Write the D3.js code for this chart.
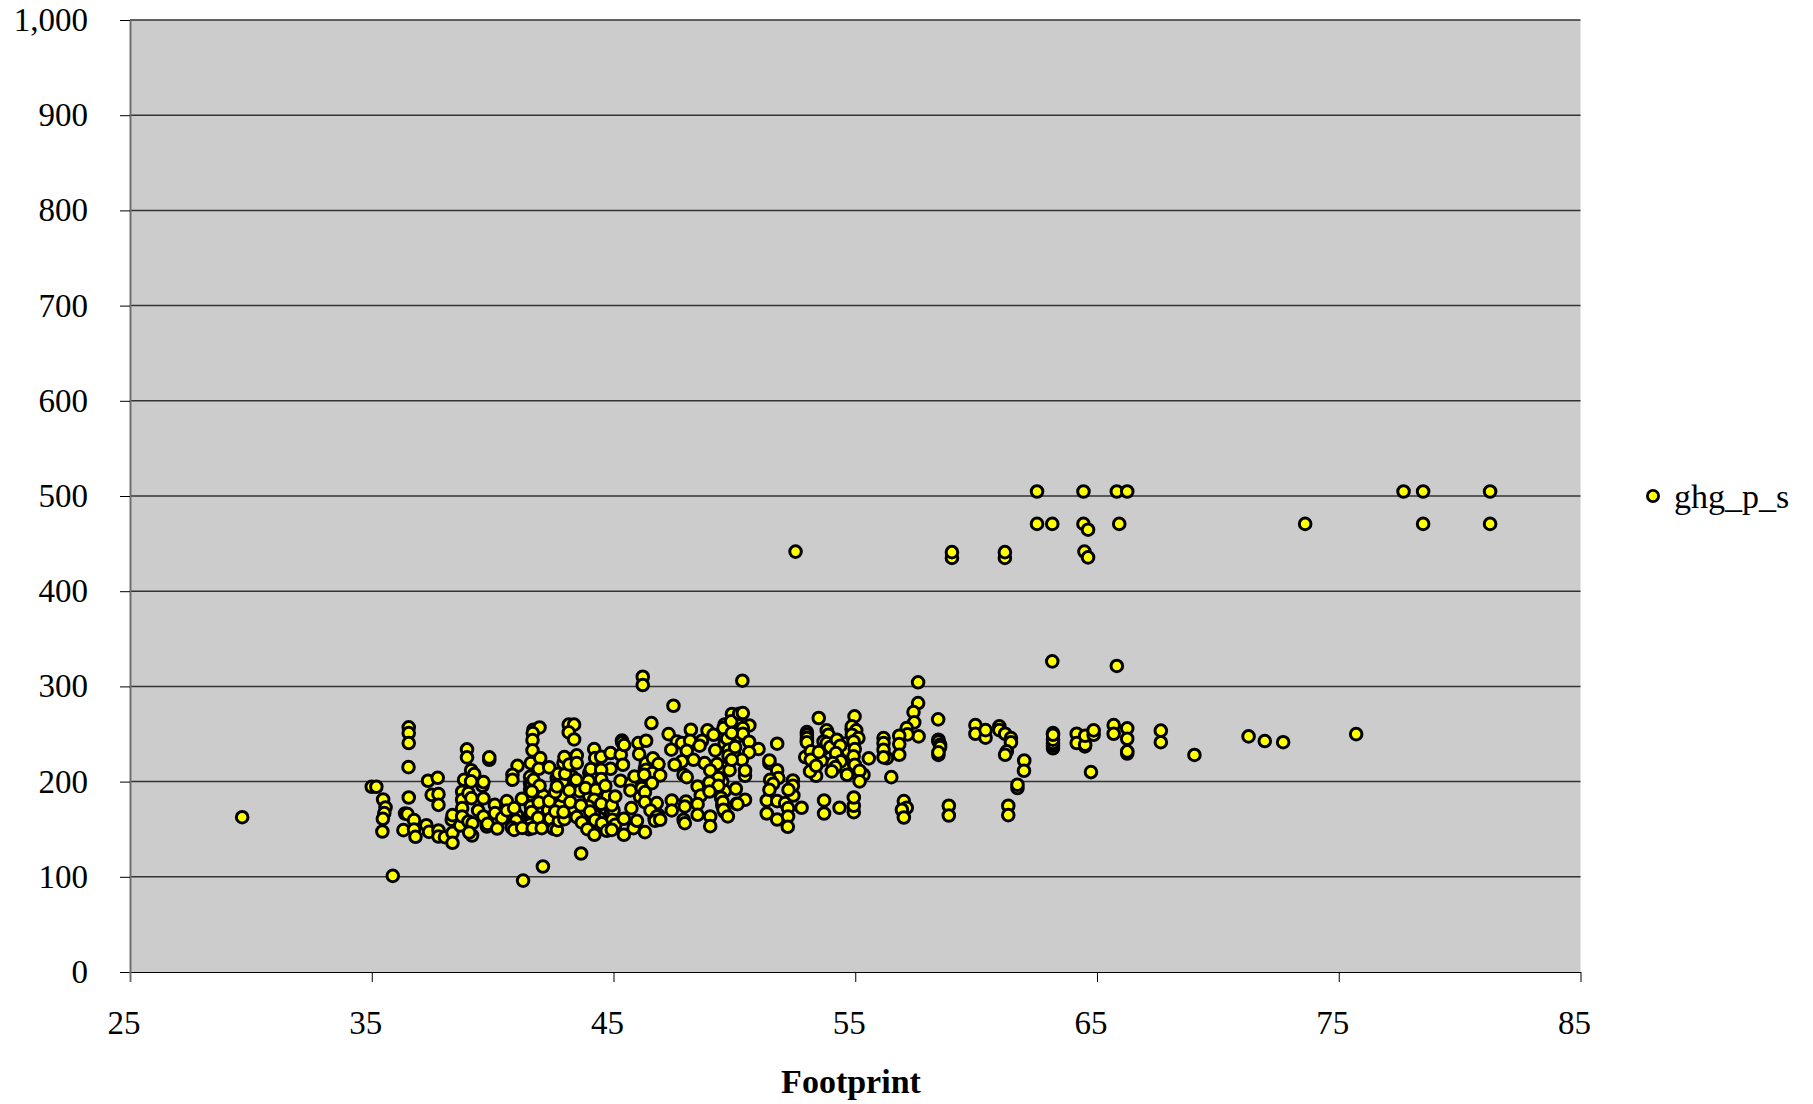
<!DOCTYPE html>
<html><head><meta charset="utf-8">
<script src="https://d3js.org/d3.v7.min.js"></script>
<style>
html,body{margin:0;padding:0;background:#fff;}
svg{display:block;font-family:"Liberation Serif","Times New Roman",serif;}
</style></head><body><div id="chart"></div>
<script>
const seriesName = "ghg_p_s";
const xTitle = "Footprint";
const xTicks = [25,35,45,55,65,75,85];
const yTicks = [0,100,200,300,400,500,600,700,800,900,1000];
// [Footprint, ghg_p_s]
const pointsHidden = [
[41.55,205],[41.55,198],[41.55,192],[41.55,186],[41.6,170],[41.55,165],[41.6,160],[41.55,155],[41.5,150],
[46.3,214],[46.3,210],[46.3,204],[46.25,200],[46.1,188],[46.1,184],[42.65,204],[42.7,199],[42.5,152],[44.2,147],[44.0,209],[44.1,205],[43.4,225],[45.35,243],[44.65,151],[44.8,152],[46.85,165],[46.7,161],
[53,252],[53,243],[54.85,255],[54.9,246],[58.44,244],[58.44,228],[63.18,251],[63.18,235],[64.5,237],
[44,185],[44.3,172],[44.6,165],[44.9,168],[44.4,162],[44.75,185],[45,170],[44.1,155],[44.45,150],[44.95,160],[44.2,165],
[41.0,165],[41.1,156],[42.2,155],[42.3,170],[42.1,185],[42.8,175],[43.1,165],[42.9,185],[43.3,172],[42.9,200],[43.3,205],[43.6,190],[46.5,215],[46.5,203],
[54.3,225],[54.5,215],[54.6,240],[54.7,225],[54.7,232],[53.3,225],[53.6,222],[53.7,235],
[49.6,240],[49.9,238],[50,228],[49.5,215],[49.8,212],[50,245],[49.6,260],[50.1,262],[50.2,248],[49.5,200],[49.6,190],[49.45,183],[49.5,175],[49.6,168]
];
const pointsLeft = [
[29.64,162.6],[35.87,101],[41.26,96],[42.08,110.8],[43.66,124.5],[35.0,194.6],[35.19,194.6],[35.47,181.2],[35.57,172.8],[35.52,166.9],[35.46,160.9],[35.44,147.6],
[36.53,257],[36.53,251],[36.53,240.5],[36.52,215.2],[36.53,183.3],[36.38,166.5],[36.48,165.8],[36.31,149],[36.75,159.5],[36.75,149.7],[36.81,142],
[37.33,200.9],[37.73,204],[37.48,186.1],[37.76,186.8],[37.76,175.6],[37.26,154.2],[37.37,147.2],[37.76,148.6],[37.76,142.3],[38.03,141.6],[38.34,146.2],[38.34,135.7],[38.31,159.9],[38.34,164.8],[38.66,153.9],
[38.74,189.3],[38.74,180.9],[38.74,172.1],[38.74,163.4],[38.82,201.9],[38.94,233.8],[38.94,225.4],[39.11,212],[39.24,207.9],[39.11,200.2],[39.58,195.6],[39.62,199.5],[39,187.9],[39.12,182.6],[39.62,182.3],[39.4,169.7],[39,158.1],[39.17,156.3],[39.15,143.4],[39.03,146.5],[39.62,163.4],[39.76,152.8],[39.79,155.6],[39.86,222.9],[39.86,225.4],
[40.09,175.6],[40.1,166.9],[40.39,161.6],[40.19,150.7],[40.59,179.5],[40.59,169.7],[40.89,172.1],[41.03,216.6],[40.82,207.2],[40.82,201.9],[41.21,181.9],[40.97,159.2],[40.79,151.8],[40.89,149.3],[41.22,151.4],
[41.69,254.5],[41.94,256.9],[41.66,251],[41.65,243.6],[41.65,232.8],[41.58,219.4],[41.97,224.7],[41.91,213.5],[42.34,214.9],[41.62,196.7],[41.69,201.9],[41.94,195.6],[41.62,189.6],[41.58,173.9],[41.91,178.1],[42.34,179.5],[41.61,167.9],[41.88,162],[42.38,160.9],[41.66,151.1],[42.03,151.1],[42.52,150.4],[42.66,149.3],[42.74,158.8],[42.97,160.5],[42.59,168.6],[42.93,167.9],[43.21,178.4],[42.59,188.9],[42.66,194.9],[43.17,190.7],[42.72,208.2],[43.0,208.2],[43.46,201.9],[42.93,219.4],[42.97,225.8],[43.17,218],[43.48,227.5],[43.48,219.4],
[43.15,259.8],[43.37,259.8],[43.15,251.7],[43.37,244.3],[44.2,234.2],[44.24,224.7],[44.49,226.1],[44.88,230],[45.3,228.2],[45.36,241.2],[45.44,238.4],[45.39,217.7],[44.88,213.5],[44.06,213.1],[44.49,212.4],[44.49,202.6],[43.97,200.9],[43.84,193.2],[44.27,191.4],[44.66,195.6],[44.2,180.9],[43.97,173.9],[43.65,174.9],[44.03,168.6],[44.49,176.7],[44.93,175.3],[45.07,184.4],[43.48,162.7],[43.69,157.1],[44.24,159.5],[44.52,156.3],[45.07,154.6],[43.92,150],[44.21,144.1],[44.72,148.3],[44.93,149.3],[45.43,144.1],[45.43,160.9],[45.83,151.1],[45.97,158.8],[45.74,172.1],[46.3,146.9],[45.29,200.9],[45.72,197.7],[45.87,205.4],[45.7,190.7],
[46.21,310.2],[46.21,301.5],[47.48,279.7],[46.57,261.5],[46.03,240.5],[46.35,242.9],[46.06,228.9],[46.34,219.1],[46.63,224.4],[46.86,218.4],[46.35,212.4],[46.61,208.9],[46.93,206.5],[46.27,207.2],[46.59,198.4],[46.17,193.2],[46.3,188.9],[46.3,178.4],[46.79,177.4],[46.53,169.7],[46.79,163.4],[46.72,158.8],[46.93,159.9],
[47.28,249.9],[48.2,254.5],[48.89,253.8],[47.62,242.2],[47.83,240.5],[48.17,242.9],[47.39,233.5],[48.03,232.4],[48.66,242.9],[48.56,237.7],[49.21,232.8],[49.55,256.2],[49.14,249.2],[49.7,245],[49.9,271],[49.87,263.3],[49.76,233.5],[49.76,227.2],[49.28,218.4],[48.77,219.4],[48.31,222.9],[47.83,221.2],[47.53,217.7],[49,211.7],[47.9,207.2],[48.03,204.7],[49.34,203.7],[48.97,199.1],[48.48,194.9],[49.34,195.6],[50.06,192.5],[48.61,185.4],[48.97,189.6],
[47.41,180.2],[47.41,169.7],[48,179.1],[47.95,173.9],[48.48,176.3],[47.9,159.9],[47.95,156.3],[48.48,165.1],[49,163.4],[49,153.2],[49.52,178.4],[49.55,170.4],[49.73,163.4],[50.1,176.7]
];
const pointsMiddle = [
[50.33,306],[50.2,271.3],[50.35,272],[50.62,259],[50.35,256.2],[50.35,250.3],[49.89,251],[50.61,241.9],[51,234.2],[50.03,236.3],[50.61,230.7],[50.31,222.9],[49.89,222.9],[50.44,206.1],[50.44,211.7],[50.44,180.9],[50.13,176.3],
[51.34,180.2],[51.34,166.5],[51.77,179.5],[51.77,160.2],[52.1,177.4],[52.22,172.1],[52.22,163.4],[52.21,152.5],[52.44,185.4],[52.78,172.5],[51.45,219.4],[51.45,222.2],[51.77,212],[51.82,203.7],[51.48,201.9],[51.6,197.7],[51.45,191.4],[52.42,201.2],[52.42,195.6],[52.24,191.4],[51.77,239.8],
[53.49,266.8],[53,249.2],[53,245.7],[53,241.2],[52.93,225.8],[53.16,231.7],[53.16,222.9],[53.38,206.1],[53.13,210.7],[53.38,216.6],[53.49,231],
[53.82,253.8],[53.89,249.2],[53.69,242.2],[53.82,240.5],[53.96,236.3],[54.24,244],[54.38,237.7],[54.2,230],[54.4,221.2],[54.07,219.4],[54.18,215.2],[54.03,210.7],
[53.71,180.2],[53.71,166.5],[54.35,172.5],[54.94,167.9],[54.94,174.6],[54.94,183.3],
[54.97,268.5],[54.86,258],[55.04,253.8],[54.86,249.2],[55.13,245.7],[54.93,242.2],[54.98,234.2],[54.93,226.5],[54.98,217.7],[54.66,207.2],[55.34,207.2],[55.18,211.4],[55.18,200.2],[55.56,224.4],
[57.6,304.3],[57.6,282.5],[57.41,273],[57.44,262.2],[57.62,247.5],[57.13,256.2],[57.16,249.6],[56.82,248.2],[56.82,239.4],[56.82,228.2],[58.43,265.4],[58.44,242.2],[58.51,238.7],[58.51,236.3],[58.44,230.7],
[56.17,245.7],[56.17,240.5],[56.17,233.5],[56.31,224.7],[56.17,225.4],[56.49,204.7],
[57.01,179.5],[57.13,172.5],[56.93,170.4],[57.01,162.3],[58.87,174.6],[58.87,164.4],[61.33,174.6],[61.33,164.8],
[59.97,259.4],[59.97,250.3],[60.39,246.1],[60.39,254.1],[60.96,258],[60.96,254.1],[61.2,250.3],[61.44,245.7],[61.44,241.2],[61.27,231.7],[61.2,228.2],[61.99,222.2],[61.98,211.4],[61.71,193.2],[61.71,196.7]
];
const pointsRight = [
[63.18,237.7],[63.18,240.5],[63.18,244],[63.18,249.2],[64.16,250.3],[64.16,240.5],[64.51,238.7],[64.51,248.2],[64.86,249.2],[64.86,253.8],[64.75,210],[65.69,259.4],[65.69,250.3],
[66.25,256],[66.25,245],[66.25,229.5],[66.25,231.7],[67.64,253.5],[67.64,241.4],[69.03,228],[71.27,247.5],[71.94,242.6],[72.7,241.4],[75.72,249.9],
[63.15,326.3],[65.82,321.5],
[52.53,441.6],[59,435],[59,441],[61.19,435],[61.19,441],[62.52,504.7],[62.52,470.7],[63.15,470.7],[64.44,504.7],[64.44,470.7],[64.63,464.6],[64.48,441.6],[64.63,435.5],
[65.82,504.7],[66.25,504.7],[65.92,470.7],[73.61,470.7],[77.68,504.7],[78.49,504.7],[78.49,470.7],[81.26,504.7],[81.26,470.7]
];
const points = pointsHidden.concat(pointsLeft, pointsMiddle, pointsRight);

const W=1813,H=1104;
const x=d3.scaleLinear().domain([25,85]).range([130,1580.5]);
const y=d3.scaleLinear().domain([0,1000]).range([972,20]);
const svg=d3.select("#chart").append("svg").attr("width",W).attr("height",H);

svg.append("rect").attr("x",x(25)).attr("y",y(1000)).attr("width",x(85)-x(25)).attr("height",y(0)-y(1000)).attr("fill","#cccccc");

svg.append("g").selectAll("line").data(yTicks.filter(d=>d>0)).join("line")
  .attr("x1",x(25)).attr("x2",x(85)).attr("y1",d=>y(d)).attr("y2",d=>y(d))
  .attr("stroke","#333333").attr("stroke-width",1.5);

const yAxis=d3.axisLeft(y).tickValues(yTicks).tickSize(10).tickSizeOuter(0).tickPadding(32).tickFormat(d3.format(","));
const gy=svg.append("g").attr("transform",`translate(${x(25)},0)`).call(yAxis);
gy.select(".domain").attr("stroke","#707070").attr("stroke-width",2);
gy.selectAll(".tick line").attr("stroke","#000").attr("stroke-width",1);
gy.selectAll(".tick text").attr("font-size",33).attr("font-family","Liberation Serif").attr("fill","#000");

const xAxis=d3.axisBottom(x).tickValues(xTicks).tickSize(10).tickSizeOuter(0).tickPadding(29).tickFormat(d3.format("d"));
const gx=svg.append("g").attr("transform",`translate(0,${y(0)})`).call(xAxis);
gx.select(".domain").attr("stroke","#000").attr("stroke-width",1.2);
gx.selectAll(".tick line").attr("stroke",d=>d===25?"#707070":"#000").attr("stroke-width",d=>d===25?2:1);
gx.selectAll(".tick text").attr("font-size",33).attr("font-family","Liberation Serif").attr("fill","#000").attr("dx",-6.5);

svg.append("g").selectAll("circle").data(points).join("circle")
  .attr("cx",d=>x(d[0])).attr("cy",d=>y(d[1])).attr("r",5.8)
  .attr("fill","#ffff00").attr("stroke","#000").attr("stroke-width",3);

svg.append("text").attr("x",851).attr("y",1093).attr("text-anchor","middle")
  .attr("font-size",34).attr("font-weight","bold").attr("fill","#000").text(xTitle);

svg.append("circle").attr("cx",1653).attr("cy",496).attr("r",5.6)
  .attr("fill","#ffff00").attr("stroke","#000").attr("stroke-width",2.8);
svg.append("text").attr("x",1674).attr("y",508).attr("font-size",34).attr("fill","#000").text(seriesName);
</script></body></html>
